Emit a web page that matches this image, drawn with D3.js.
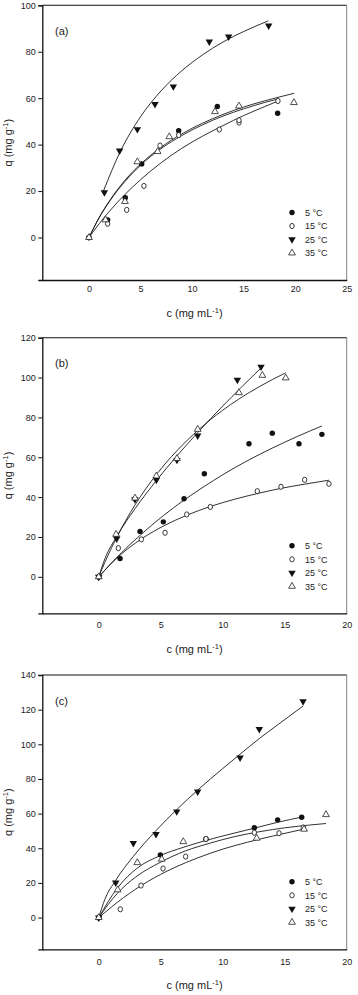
<!DOCTYPE html>
<html>
<head>
<meta charset="utf-8">
<script src="https://cdn.jsdelivr.net/npm/d3@7"></script>
<style>
  body { margin: 0; background: #fff; }
  #chart { width: 358px; height: 995px; }
  text { font-family: 'Liberation Sans', Arial, sans-serif; fill: #222; }
</style>
</head>
<body>
<div id="chart"></div>
<script>
///// DATOS (c en mg/mL, q en mg/g) /////
let legendLabels = ['5 °C', '15 °C', '25 °C', '35 °C'];
let panelLabels = ['(a)', '(b)', '(c)'];

let ticksXA = [0, 5, 10, 15, 20, 25];
let ticksXB = [0, 5, 10, 15, 20];
let ticksYA = [0, 20, 40, 60, 80, 100];
let ticksYB = [0, 20, 40, 60, 80, 100, 120];
let ticksYC = [0, 20, 40, 60, 80, 100, 120, 140];

// Panel (a): puntos medidos
let ptsA5  = [[0,0],[1.81,7.6],[3.52,17.1],[5.11,31.7],[8.7,46.0],[12.45,56.4],[18.3,53.5]];
let ptsA15 = [[0,0],[1.81,5.9],[3.66,11.9],[5.33,22.2],[6.89,39.6],[8.7,44.1],[12.64,46.5],[14.55,49.5],[14.55,50.5],[18.33,58.8]];
let ptsA25 = [[1.49,19.4],[2.97,37.4],[4.69,46.6],[6.4,57.4],[8.18,65],[11.67,84.3],[13.55,86.5],[17.43,91.2]];
let ptsA35 = [[0,0],[1.6,7.6],[3.49,15.5],[4.69,32.6],[6.66,37],[7.79,43.4],[12.22,54.2],[14.55,56.6],[19.88,58.1]];
// Panel (a): curvas ajustadas
let fitA5  = [[0,0],[1,8.6],[2,15.6],[3.5,24.2],[5,31.1],[7,38.3],[9,43.9],[11,48.5],[13,52.3],[15,55.4],[17,58.1],[18.36,59.7]];
let fitA15 = [[0,0],[1,6.0],[2,11.4],[3.5,18.6],[5,24.9],[7,32.2],[9,38.4],[11,43.6],[13,48.2],[15,52.5],[17,56.3],[18.36,58.8]];
let fitA25 = [[1.4,20],[3,36.7],[5,52],[7,63.2],[9,71.8],[11,78.6],[13,84.2],[15,88.7],[17.4,93.3]];
let fitA35 = [[0,0],[1,8.7],[2,15.9],[3.5,24.7],[5,31.6],[7,38.9],[9,44.6],[11,49.2],[13,53],[15,56.2],[17,58.8],[19.9,62.1]];

// Panel (b)
let ptsB5  = [[0,0],[1.72,9.2],[3.33,22.8],[5.21,27.6],[6.88,39.2],[8.52,51.7],[12.12,66.8],[14.0,72.1],[16.15,66.8],[18.0,71.5]];
let ptsB15 = [[0,0],[1.58,14.4],[3.44,18.8],[5.35,22.1],[7.1,31.3],[9.0,35.1],[12.79,43],[14.7,45.2],[16.61,48.7],[18.57,46.7]];
let ptsB25 = [[0,0],[1.45,19.1],[2.92,38.8],[4.65,48.6],[6.31,58.6],[7.98,70.8],[11.18,98.8],[13.09,105.4]];
let ptsB35 = [[0,0],[1.4,21.3],[2.93,39.5],[4.65,50.6],[6.31,59.4],[7.98,74],[11.31,92.4],[13.2,101.1],[15.08,99.8]];
let fitB5  = [[0,0],[1.72,11.4],[3.33,20.8],[5.21,30.7],[6.88,38.5],[8.52,45.4],[10,51.2],[12.12,58.7],[14,64.6],[16,70.4],[18,75.7]];
let fitB15 = [[0,0],[1.58,10.1],[3.44,19],[5.35,25.9],[7.1,30.9],[9,35.3],[11,39],[12.79,41.8],[14.7,44.4],[16.61,46.5],[18.57,48.5]];
let fitB25 = [[0,0],[0.5,9.1],[1.45,20.2],[2.93,34.2],[4.65,48.3],[6.31,60.7],[8,72.5],[10,85.7],[11.5,95.1],[13.12,105]];
let fitB35 = [[0,0],[0.5,7.3],[1.45,19.8],[2.93,36.1],[4.65,51.3],[6.31,63.3],[8,73.5],[10,83.6],[11.3,89.2],[13,95.6],[15.08,102.4]];

// Panel (c)
let ptsC5  = [[0,0],[4.97,36.2],[8.65,45.4],[12.55,51.9],[14.43,56.4],[16.37,57.9]];
let ptsC15 = [[0,0],[1.74,4.8],[3.41,18.5],[5.19,28.3],[7.01,35.2],[8.65,45.4],[12.55,49],[14.54,48.7],[16.5,52]];
let ptsC25 = [[0,0],[1.37,20.2],[2.79,42.9],[4.62,48.1],[6.29,61.2],[7.98,72.7],[11.4,92.3],[12.95,108.7],[16.48,124.8]];
let ptsC35 = [[0,0],[1.53,16],[3.11,31.7],[5.08,33.7],[6.82,43.8],[12.74,45.8],[16.56,51],[18.33,59.4]];
let fitC5  = [[0,0],[1.5,17],[3.1,28.5],[4.97,35.8],[6.8,40.5],[8.65,44.5],[10.5,48],[12.55,51.6],[14.43,55],[16.37,58]];
let fitC15 = [[0,0],[2,11.5],[4,21],[6,28.5],[8,34.5],[10,39.5],[12,43.5],[14,47],[16.5,51]];
let fitC25 = [[0,0],[0.5,10.6],[1.37,21.5],[2.79,35.3],[4.62,50.2],[6.29,62.3],[8,73.7],[10,86],[11.4,94.3],[12.95,103.3],[14.5,111.6],[16.48,122.1]];
let fitC35 = [[0,0],[1.5,14],[3,23.5],[5,32],[7,38.5],[9,43],[11,46.8],[13,49.6],[15,51.8],[17,53.4],[18.33,54.3]];

///// CONFIGURACIÓN DE PANELES /////
let symbols = ['dot', 'ring', 'down', 'up'];
let panels = [
    {label: panelLabels[0], top: 5.3, bottom: 280, xMin: -4.53, xMax: 25, yMax: 100, xTicks: ticksXA, yTicks: ticksYA,
     tickPad: 5.5, titleGap: 37,
     pts: [ptsA5, ptsA15, ptsA25, ptsA35], fits: [fitA5, fitA15, fitA25, fitA35]},
    {label: panelLabels[1], top: 337.7, bottom: 613.3, xMin: -4.55, xMax: 20, yMax: 120, xTicks: ticksXB, yTicks: ticksYB,
     tickPad: 8.5, titleGap: 40,
     pts: [ptsB5, ptsB15, ptsB25, ptsB35], fits: [fitB5, fitB15, fitB25, fitB35]},
    {label: panelLabels[2], top: 675, bottom: 949.3, xMin: -4.55, xMax: 20, yMax: 140, xTicks: ticksXB, yTicks: ticksYC,
     tickPad: 9, titleGap: 40,
     pts: [ptsC5, ptsC15, ptsC25, ptsC35], fits: [fitC5, fitC15, fitC25, fitC35]}
];
let left = 42.3, right = 346.7, yMin = -18.3;

let svg = d3.select('#chart').append('svg')
    .attr('width', 358)
    .attr('height', 995);

panels.forEach(drawPanel);

function drawPanel(p) {
    let x = d3.scaleLinear().domain([p.xMin, p.xMax]).range([left, right]);
    let y = d3.scaleLinear().domain([yMin, p.yMax]).range([p.bottom, p.top]);
    let g = svg.append('g');

    //Marco: arriba y derecha más finos
    g.append('line').attr('x1', left).attr('x2', right).attr('y1', p.top).attr('y2', p.top)
        .attr('stroke', '#111').attr('stroke-width', 1.1);
    g.append('line').attr('x1', right).attr('x2', right).attr('y1', p.top).attr('y2', p.bottom)
        .attr('stroke', '#777').attr('stroke-width', 0.9);

    //Eje Y
    let yAxis = g.append('g')
        .attr('transform', 'translate(' + left + ',0)')
        .call(d3.axisLeft(y).tickValues(p.yTicks).tickSize(4).tickPadding(2.5));
    yAxis.select('.domain').attr('stroke', '#111').attr('stroke-width', 1.3);
    yAxis.selectAll('.tick line').attr('stroke', '#111');
    yAxis.selectAll('.tick text').attr('font-size', 9).attr('fill', '#333');

    //Eje X (sin marcas)
    let xAxis = g.append('g')
        .attr('transform', 'translate(0,' + p.bottom + ')')
        .call(d3.axisBottom(x).tickValues(p.xTicks).tickSize(0).tickPadding(p.tickPad));
    xAxis.select('.domain').attr('stroke', '#111').attr('stroke-width', 1.3);
    xAxis.selectAll('.tick text').attr('font-size', 9).attr('fill', '#333');

    //Títulos de ejes
    let cx = (left + right) / 2, cy = (p.top + p.bottom) / 2;
    let xt = g.append('text')
        .attr('x', cx).attr('y', p.bottom + p.titleGap)
        .attr('text-anchor', 'middle').attr('font-size', 11);
    xt.append('tspan').text('c (mg mL');
    xt.append('tspan').attr('dy', -4).attr('font-size', 7.5).text('-1');
    xt.append('tspan').attr('dy', 4).text(')');

    let yt = g.append('text')
        .attr('transform', 'translate(12,' + cy + ') rotate(-90)')
        .attr('text-anchor', 'middle').attr('font-size', 11);
    yt.append('tspan').text('q (mg g');
    yt.append('tspan').attr('dy', -4).attr('font-size', 7.5).text('-1');
    yt.append('tspan').attr('dy', 4).text(')');

    //Etiqueta del panel
    g.append('text')
        .attr('x', 55).attr('y', p.top + 29.5)
        .attr('font-size', 11).text(p.label);

    //Curvas ajustadas
    let line = d3.line()
        .x(function(d) { return x(d[0]); })
        .y(function(d) { return y(d[1]); })
        .curve(d3.curveMonotoneX);

    g.selectAll('.fit')
        .data(p.fits)
        .enter()
        .append('path')
        .attr('fill', 'none')
        .attr('stroke', '#1a1a1a')
        .attr('stroke-width', 0.9)
        .attr('d', function(d) { return line(d); });

    //Puntos
    p.pts.forEach(function(serie, i) {
        serie.forEach(function(d) {
            drawSymbol(g, symbols[i], x(d[0]), y(d[1]));
        });
    });

    //Leyenda
    legendLabels.forEach(function(lab, i) {
        let ly = p.bottom - 67.5 + i * 13.5;
        drawSymbol(g, symbols[i], 292, ly);
        g.append('text')
            .attr('x', 305).attr('y', ly + 3.3)
            .attr('font-size', 9).attr('fill', '#333')
            .text(lab);
    });
}

function drawSymbol(g, type, px, py) {
    if (type == 'dot') {
        g.append('circle').attr('cx', px).attr('cy', py).attr('r', 2.7).attr('fill', '#111');
    } else if (type == 'ring') {
        g.append('ellipse').attr('cx', px).attr('cy', py).attr('rx', 2.2).attr('ry', 2.6)
            .attr('fill', '#fff').attr('stroke', '#222').attr('stroke-width', 0.9);
    } else if (type == 'down') {
        g.append('path')
            .attr('d', d3.symbol().type(d3.symbolTriangle).size(24)())
            .attr('transform', 'translate(' + px + ',' + py + ') rotate(180)')
            .attr('fill', '#111');
    } else {
        g.append('path')
            .attr('d', d3.symbol().type(d3.symbolTriangle).size(20)())
            .attr('transform', 'translate(' + px + ',' + py + ')')
            .attr('fill', '#fff').attr('stroke', '#222').attr('stroke-width', 0.8);
    }
}
</script>
</body>
</html>
